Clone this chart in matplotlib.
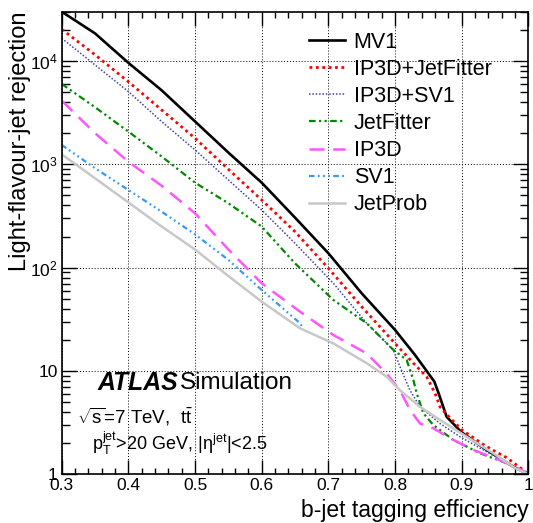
import matplotlib
matplotlib.use('Agg')
import matplotlib.pyplot as plt
from matplotlib.ticker import FixedLocator, FixedFormatter, LogLocator, NullFormatter, MultipleLocator

plt.rcParams['font.family'] = ['Liberation Sans', 'DejaVu Sans']
plt.rcParams['mathtext.fontset'] = 'custom'
plt.rcParams['mathtext.rm'] = 'Liberation Sans'
plt.rcParams['mathtext.it'] = 'Liberation Sans:italic'
plt.rcParams['mathtext.bf'] = 'Liberation Sans:bold'

# curves (b-jet efficiency, light-jet rejection)
mv1_x = [0.30, 0.35, 0.40, 0.45, 0.50, 0.55, 0.60, 0.65, 0.70, 0.75, 0.80, 0.83, 0.859, 0.865, 0.8775, 0.90, 0.9375, 0.977, 1.0]
mv1_y = [30000, 18500, 9600, 5200, 2600, 1300, 665, 305, 138, 56.5, 25, 14.3, 7.9, 6.2, 3.6, 2.55, 1.72, 1.19, 1.0]

ipjf_x = [0.30, 0.35, 0.40, 0.45, 0.50, 0.55, 0.60, 0.65, 0.70, 0.75, 0.80, 0.8275, 0.8475, 0.86, 0.8675, 0.8775, 0.90, 0.9375, 0.9675, 0.9925, 1.0]
ipjf_y = [20300, 11500, 6300, 3360, 1790, 896, 452, 223, 98.7, 41.9, 18.5, 11.9, 8.8, 6.1, 4.5, 3.8, 2.7, 1.85, 1.45, 1.1, 1.0]

ipsv_x = [0.30, 0.35, 0.40, 0.45, 0.50, 0.55, 0.60, 0.65, 0.7075, 0.7575, 0.7975, 0.8075, 0.8225, 0.8375, 0.8675, 0.8975, 0.9375, 0.9775, 1.0]
ipsv_y = [16600, 9160, 5060, 2590, 1380, 706, 362, 172, 70.6, 29, 16, 11, 6.5, 4.5, 3.1, 2.31, 1.65, 1.19, 1.0]

jf_x = [0.30, 0.35, 0.40, 0.45, 0.50, 0.55, 0.60, 0.65, 0.7075, 0.7575, 0.7975, 0.8175, 0.8275, 0.8325, 0.8425, 0.8575, 0.8875, 0.9275, 0.9675, 1.0]
jf_y = [6000, 3570, 2075, 1190, 665, 420, 250, 110, 48.7, 29, 16, 12.8, 8.2, 6.1, 3.9, 3.0, 2.15, 1.6, 1.28, 1.0]

ip3d_x = [0.30, 0.35, 0.40, 0.45, 0.50, 0.55, 0.60, 0.6575, 0.7075, 0.7575, 0.787, 0.8075, 0.8225, 0.8375, 0.8575, 0.8875, 0.9175, 0.9575, 0.99, 1.0]
ip3d_y = [4140, 2000, 1060, 620, 336, 150, 70.6, 37.5, 22.3, 14.8, 9.5, 6.5, 4.2, 3.1, 2.79, 2.15, 1.72, 1.37, 1.1, 1.0]

sv1_x = [0.30, 0.35, 0.40, 0.45, 0.50, 0.55, 0.60, 0.6575, 0.662]
sv1_y = [1540, 917, 565, 348, 210, 119, 60.8, 29, 26]

jp_x = [0.30, 0.35, 0.40, 0.45, 0.50, 0.55, 0.60, 0.6575, 0.7075, 0.7575, 0.7875, 0.8075, 0.8375, 0.8675, 0.9075, 0.9475, 0.98, 1.0]
jp_y = [1250, 733, 428, 250, 150, 83, 46.9, 25.9, 18.5, 11.9, 8.8, 6.5, 4.5, 3.36, 2.31, 1.6, 1.15, 1.0]

labels = ['MV1', 'IP3D+JetFitter', 'IP3D+SV1', 'JetFitter', 'IP3D', 'SV1', 'JetProb']
xticks = [0.3, 0.4, 0.5, 0.6, 0.7, 0.8, 0.9, 1.0]
xtick_labels = ['0.3', '0.4', '0.5', '0.6', '0.7', '0.8', '0.9', '1']
yticks = [1, 10, 100, 1000, 10000]
ytick_labels = ['1', '10', r'$10^{2}$', r'$10^{3}$', r'$10^{4}$']

fig = plt.figure(figsize=(5.33, 5.23), dpi=100)
ax = fig.add_axes([0.1158, 0.0931, 0.8754, 0.8845])

ax.plot(mv1_x, mv1_y, color='black', lw=1.9, label=labels[0])
ax.plot(ipjf_x, ipjf_y, color='#ff0000', lw=2.0, dashes=(1, 1.3), label=labels[1])
ax.plot(ipsv_x, ipsv_y, color='#4040a8', lw=1.1, dashes=(1, 1.2), label=labels[2])
ax.plot(jf_x, jf_y, color='#008800', lw=1.6, dashes=(3, 1.5, 1, 1.5, 1, 1.5), label=labels[3])
ax.plot(ip3d_x, ip3d_y, color='#ff55ff', lw=1.8, dashes=(6, 3.5), label=labels[4])
ax.plot(sv1_x, sv1_y, color='#3399ff', lw=1.6, dashes=(2.5, 1.5, 0.8, 1.5, 0.8, 1.5, 0.8, 1.5), label=labels[5])
ax.plot(jp_x, jp_y, color='#c8c8c8', lw=1.8, label=labels[6])

ax.set_yscale('log')
ax.set_xlim(0.3, 1.0)
ax.set_ylim(1, 30000)

ax.xaxis.set_major_locator(FixedLocator(xticks))
ax.xaxis.set_major_formatter(FixedFormatter(xtick_labels))
ax.xaxis.set_minor_locator(MultipleLocator(0.02))
ax.yaxis.set_major_locator(FixedLocator(yticks))
ax.yaxis.set_major_formatter(FixedFormatter(ytick_labels))
ax.yaxis.set_minor_locator(LogLocator(base=10, subs=range(2, 10)))
ax.yaxis.set_minor_formatter(NullFormatter())

ax.tick_params(which='both', direction='in', top=True, right=True, labelsize=12.5, width=1.0)
ax.tick_params(axis='x', which='major', length=10, pad=3)
ax.tick_params(axis='x', which='minor', length=4.5)
ax.tick_params(axis='y', which='major', length=11, pad=3)
ax.tick_params(axis='y', which='minor', length=6)
for s in ax.spines.values():
    s.set_linewidth(1.2)

ax.grid(True, which='major', color='black', lw=0.7, dashes=(1, 2))
ax.set_axisbelow(True)

ax.set_xlabel('b-jet tagging efficiency', fontsize=16.5, ha='right', va='center')
ax.xaxis.set_label_coords(1.0, -0.078)
ax.text(-0.089, 1.0, 'Light-flavour-jet rejection', transform=ax.transAxes, fontsize=17,
        rotation=90, rotation_mode='anchor', ha='right', va='center')

leg = ax.legend(loc='upper left', bbox_to_anchor=(0.53, 0.957), frameon=False, fontsize=15.5,
                handlelength=1.67, handletextpad=0.4, labelspacing=0.285, borderpad=0, borderaxespad=0)

ax.text(0.076, 0.197, 'ATLAS', transform=ax.transAxes, fontsize=17.8, fontweight='bold',
        fontstyle='italic', va='center')
ax.text(0.2535, 0.197, 'Simulation', transform=ax.transAxes, fontsize=17.5, va='center')
ax.text(0.032, 0.125, r'$\sqrt{\mathrm{s}}$=7 TeV,  $\mathrm{t\bar{t}}$', transform=ax.transAxes,
        fontsize=13.5, va='center')
ax.text(0.065, 0.066, r'$\mathrm{p_{T}^{jet}}$>20 GeV, $|\mathrm{\eta}^{\mathrm{jet}}|$<2.5',
        transform=ax.transAxes, fontsize=13, va='center')

fig.savefig('out.png', dpi=100)
